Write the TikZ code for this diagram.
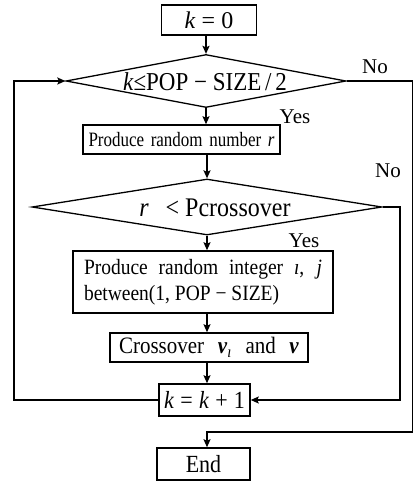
\documentclass[tikz,border=0pt]{standalone}
\usepackage{fontspec}
\setmainfont{Liberation Serif}
\usetikzlibrary{shapes.geometric,arrows.meta}
\newcommand{\fs}[1]{\fontsize{#1}{#1}\selectfont}
\newcommand{\tall}[1]{\scalebox{1}[1.12]{#1}}
\begin{document}
\begin{tikzpicture}[x=1pt,y=-1pt,line width=1.5pt,
  box/.style={draw,rectangle,inner sep=0pt},
  dec/.style={draw,diamond,inner sep=0pt,line width=1.3pt},
  arr/.style={-{Stealth[length=8pt,width=7pt,inset=1.5pt]}},
  lbl/.style={inner sep=0pt,font=\fs{21}}]
\useasboundingbox (0,0) rectangle (414,487);
% nodes
\node[box,minimum width=95pt,minimum height=30pt,font=\fs{24}] (k0) at (209,20) {\textit{k} = 0};
\node[dec,minimum width=280pt,minimum height=53pt] (d1) at (206,81) {};
\node[inner sep=0pt,font=\fs{23}] (t1) at (205,82) {\tall{\textit{k}≤POP − SIZE\,/\,2}};
\node[box,minimum width=197pt,minimum height=29pt,font=\fs{17}] (b2) at (181.5,139.5) {\scalebox{1}[1.2]{\makebox[186pt][s]{Produce random number \textit{r}}}};
\node[dec,minimum width=350pt,minimum height=56pt] (d2) at (207,207) {};
\node[inner sep=0pt,font=\fs{24}] (t2) at (215,208) {\tall{\textit{r}\hspace{0.7em}< Pcrossover}};
\node[box,minimum width=260pt,minimum height=62pt,align=left,font=\fs{19.5}] (b3) at (203,282)
  {\tall{\makebox[238pt][s]{Produce random integer \textit{\i}, \textit{j}}}\\[5pt]\tall{between(1, POP − SIZE)}};
\node[box,minimum width=198pt,minimum height=29pt,font=\fs{21}] (b4) at (209,347.5)
  {\tall{\makebox[180pt][s]{Crossover \textbf{\textit{v}}\textsubscript{\textit{\i}} and \textbf{\textit{v}}}}};
\node[box,minimum width=91pt,minimum height=32pt,font=\fs{22}] (b5) at (204.5,400) {\tall{\makebox[81pt][s]{\textit{k} = \textit{k} + 1}}};
\node[box,minimum width=93pt,minimum height=32pt,font=\fs{22}] (end) at (203.5,464) {\tall{End}};
% labels
\node[lbl] (no1) at (375,67) {No};
\node[lbl] (yes1) at (295,117) {Yes};
\node[lbl] (no2) at (388,171) {No};
\node[lbl] (yes2) at (304,241) {Yes};
% helper coordinates
\coordinate (L) at (14,0);
\coordinate (R1) at (400,0);
\coordinate (R2) at (412.5,0);
\coordinate (H) at (0,432);
% connectors
\draw[arr] (d1.north |- k0.south) -- (d1.north);
\draw[arr] (d1.south) -- (d1.south |- b2.north);
\draw[arr] (d2.north |- b2.south) -- (d2.north);
\draw[arr] (d2.south) -- (d2.south |- b3.north);
\draw[arr] (d2.south |- b3.south) -- (d2.south |- b4.north);
\draw[arr] (d2.south |- b4.south) -- (d2.south |- b5.north);
\draw[arr] (b5.west) -- (b5.west -| L) |- (d1.west);
\draw[arr] (d2.east) -- (d2.east -| R1) |- (b5.east);
\draw[arr] (d1.east) -- (d1.east -| R2) -- (R2 |- H) -- (d2.south |- H) -- (d2.south |- end.north);
\end{tikzpicture}
\end{document}
